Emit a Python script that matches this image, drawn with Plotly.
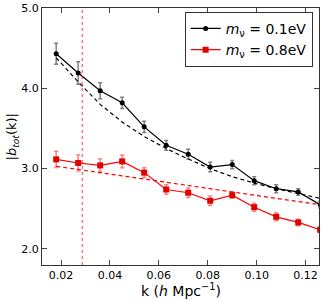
import plotly.graph_objects as go

k = [0.018, 0.027, 0.036, 0.045, 0.054, 0.063, 0.072, 0.081, 0.090, 0.099, 0.108, 0.117, 0.126]

b_01 = [4.43, 4.19, 3.97, 3.82, 3.52, 3.29, 3.18, 3.02, 3.05, 2.85, 2.75, 2.71, 2.55]
err_01 = [0.13, 0.14, 0.10, 0.07, 0.07, 0.06, 0.06, 0.06, 0.05, 0.05, 0.05, 0.04, 0.04]
model_01 = [4.38, 4.08, 3.80, 3.58, 3.40, 3.25, 3.12, 3.00, 2.90, 2.82, 2.75, 2.69, 2.63]

b_08 = [3.115, 3.07, 3.04, 3.09, 2.95, 2.74, 2.70, 2.60, 2.67, 2.52, 2.40, 2.33, 2.24]
err_08 = [0.10, 0.10, 0.08, 0.08, 0.06, 0.06, 0.06, 0.06, 0.04, 0.05, 0.05, 0.04, 0.04]
model_08 = [3.03, 2.99, 2.95, 2.91, 2.87, 2.83, 2.79, 2.75, 2.71, 2.67, 2.63, 2.59, 2.55]

x_ticks = [0.02, 0.04, 0.06, 0.08, 0.10, 0.12]
y_ticks = [2.0, 3.0, 4.0, 5.0]
k_nl = 0.0287

font = "DejaVu Sans"
fig = go.Figure()

fig.add_trace(go.Scatter(
    x=k, y=model_01, mode="lines", showlegend=False,
    line=dict(color="black", width=1.2, dash="4px,3px")))
fig.add_trace(go.Scatter(
    x=k, y=model_08, mode="lines", showlegend=False,
    line=dict(color="red", width=1.2, dash="4px,3px")))

fig.add_trace(go.Scatter(
    x=k, y=b_01, mode="lines+markers",
    name="<i>m</i><sub>ν</sub> = 0.1eV",
    line=dict(color="black", width=1.2),
    marker=dict(color="black", size=5, symbol="circle"),
    error_y=dict(type="data", array=err_01, color="rgba(0,0,0,0.5)", thickness=1.5, width=2)))
fig.add_trace(go.Scatter(
    x=k, y=b_08, mode="lines+markers",
    name="<i>m</i><sub>ν</sub> = 0.8eV",
    line=dict(color="red", width=1.2),
    marker=dict(color="#e00000", size=6, symbol="square"),
    error_y=dict(type="data", array=err_08, color="rgba(255,0,0,0.5)", thickness=1.5, width=2)))

fig.add_vline(x=k_nl, line=dict(color="rgba(255,0,0,0.55)", width=1.5, dash="dot"))

fig.update_layout(
    width=324, height=301,
    margin=dict(l=42, r=5, t=8, b=36, autoexpand=False),
    paper_bgcolor="white", plot_bgcolor="white",
    font=dict(family=font, size=11, color="black"),
    legend=dict(x=0.515, y=0.985, xanchor="left", yanchor="top",
                bordercolor="#333", borderwidth=1, bgcolor="white",
                font=dict(size=14), tracegroupgap=0, itemwidth=30),
    annotations=[
        dict(text="k (<i>h</i> Mpc<sup>−1</sup>)", xref="paper", yref="paper",
             x=0.5, y=-0.055, xanchor="center", yanchor="top", showarrow=False,
             font=dict(size=14)),
        dict(text="|<i>b</i><sub><i>tot</i></sub>(k)|", xref="paper", yref="paper",
             x=-0.105, y=0.5, xanchor="center", yanchor="middle", showarrow=False,
             textangle=-90, font=dict(size=13)),
    ],
)
fig.update_xaxes(
    range=[0.0122, 0.1255], tickvals=x_ticks,
    tickformat=".2f", ticks="inside", ticklen=5, mirror="ticks", automargin=False,
    showline=True, linecolor="#333", linewidth=1, showgrid=False, zeroline=False)
fig.update_yaxes(
    range=[1.8, 5.0], tickvals=y_ticks, tickformat=".1f",
    ticks="inside", ticklen=5, mirror="ticks", automargin=False,
    showline=True, linecolor="#333", linewidth=1, showgrid=False, zeroline=False)

fig.write_html("out.html", config={"displayModeBar": False},
               post_script="document.body.style.margin='0';document.body.style.overflow='hidden';")
